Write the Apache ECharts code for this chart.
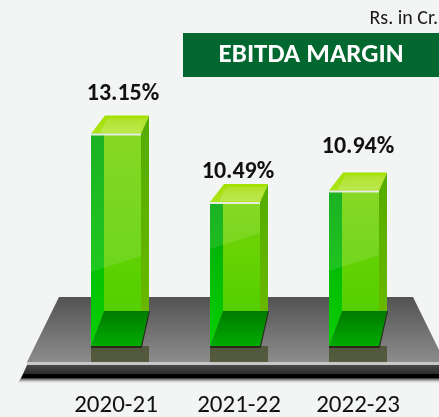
<!DOCTYPE html>
<html>
<head>
<meta charset="utf-8">
<style>html,body{margin:0;padding:0;background:#f3f4f4}#c{width:439px;height:417px}</style>
<script src="https://cdn.jsdelivr.net/npm/echarts@6/dist/echarts.min.js"></script>
</head>
<body>
<div id="c"></div>
<script>
const categories = ['2020-21', '2021-22', '2022-23'];
const marginValues = [13.15, 10.49, 10.94];
const valueLabels = ['13.15%', '10.49%', '10.94%'];
const chartTitle = 'EBITDA MARGIN';
const unitNote = 'Rs. in Cr.';

const FONT = 'Carlito, Lato, "Open Sans", sans-serif';
const AXIS_MIN = 4.92;
const glossLift = [90, 113, 91];
const labelLift = [21, 12, 25];
const labelShift = [3, -1, 0];

function grad(a, b, horizontal) {
  return new echarts.graphic.LinearGradient(0, 0, horizontal ? 1 : 0, horizontal ? 0 : 1,
    [{offset: 0, color: a}, {offset: 1, color: b}]);
}
function poly(points, fill, extra) {
  return Object.assign({type: 'polygon', shape: {points}, style: {fill}, silent: true}, extra || {});
}

function renderBar(params, api) {
  const i = api.value(0), v = api.value(1);
  const top = api.coord([i, v]);
  const base = api.coord([i, AXIS_MIN]);
  const c = top[0], L = c - 29, R = c + 29, F = c + 21, B = L + 13;
  const yT = top[1], yB = base[1], yTB = yT - 18, yFB = yB - 35;
  const yGR = yB - glossLift[i], yGL = yGR + 16;
  const kids = [
    {type: 'rect', shape: {x: L, y: yB, width: R - L, height: 16}, style: {fill: 'rgba(62,72,32,0.72)'}, silent: true},
    {type: 'polyline', shape: {points: [[L, yB + 1], [F, yB + 1], [R, yFB]]}, style: {stroke: '#2a2a20', lineWidth: 2, fill: null}, silent: true},
    poly([[B, yFB], [R, yFB], [F, yB], [L, yB]], grad('#007a00', '#00ac00')),
    poly([[B, yT], [F, yT], [F, yFB], [B, yFB]], grad('#78d408', '#54d000')),
    poly([[F, yT], [R, yTB], [R, yFB], [F, yFB]], grad('#54ac00', '#68b800')),
    poly([[L, yT], [B, yT], [B, yFB], [L, yB]], grad('#00a808', '#08d000')),
    poly([[L, yT], [F, yT], [F, yGR], [L, yGL]], 'rgba(255,255,255,0.11)'),
    poly([[L, yT], [B + 1, yTB], [R, yTB], [F, yT]], grad('#a2e000', '#aee41c')),
    poly([[B + 3, yTB + 3], [R - 2, yTB + 3], [F - 1, yT - 1], [B - 4, yT - 1]], grad('#b0e22a', '#bce852')),
    {type: 'rect', shape: {x: L, y: yT, width: F - L, height: 2}, style: {fill: '#e6ece0'}, silent: true},
    {type: 'text', x: c + labelShift[i], y: yTB - labelLift[i],
      style: {text: valueLabels[i], font: 'bold 24px ' + FONT, fill: '#111', align: 'center', verticalAlign: 'middle'}, silent: true}
  ];
  return {type: 'group', children: kids};
}

const chart = echarts.init(document.getElementById('c'), null, {renderer: 'canvas'});
chart.setOption({
  animation: false,
  backgroundColor: '#f3f4f4',
  title: [
    {text: chartTitle, left: 311, top: 55, padding: 0, textAlign: 'center', textVerticalAlign: 'middle',
      textStyle: {color: '#fff', fontFamily: FONT, fontSize: 27, fontWeight: 'bold'}},
    {text: unitNote, right: 1, top: 19, padding: 0, textVerticalAlign: 'middle',
      textStyle: {color: '#1a1a1a', fontFamily: FONT, fontSize: 20, fontWeight: 'normal'}}
  ],
  grid: {left: 60.5, width: 357, bottom: 71, height: 260.4, outerBoundsMode: 'none'},
  xAxis: {
    type: 'category', data: [
      {value: categories[0], textStyle: {padding: [0, 8, 0, 0]}},
      categories[1], categories[2]
    ],
    axisLine: {show: false}, axisTick: {show: false},
    axisLabel: {color: '#111', fontFamily: FONT, fontSize: 25, margin: 47}
  },
  yAxis: {type: 'value', min: AXIS_MIN, max: 15, show: false},
  graphic: [
    {type: 'rect', shape: {x: 183, y: 33, width: 256, height: 44}, style: {fill: '#03682f'}, silent: true},
    {type: 'polygon', shape: {points: [[59, 297], [413, 297], [439, 350], [439, 362], [27, 362]]},
      style: {fill: grad('#535353', '#8c8c8c')}, silent: true},
    {type: 'polygon', shape: {points: [[27, 362], [439, 362], [439, 365], [27, 365]]}, style: {fill: '#c8c8c8'}, silent: true},
    {type: 'polygon', shape: {points: [[27, 365], [439, 365], [439, 374], [23, 374]]},
      style: {fill: grad('#4a4a4a', '#2a2a2a')}, silent: true},
    {type: 'polygon', shape: {points: [[23, 374], [439, 374], [439, 378], [21, 378]]}, style: {fill: '#000'}, silent: true},
    {type: 'polygon', shape: {points: [[21, 378], [439, 378], [439, 384], [17, 384]]},
      style: {fill: grad('#222222', 'rgba(243,244,244,0)')}, silent: true}
  ],
  series: [{
    type: 'custom',
    renderItem: renderBar,
    encode: {x: 0, y: 1},
    clip: false,
    data: marginValues.map((v, i) => [i, v])
  }]
});
</script>
</body>
</html>
